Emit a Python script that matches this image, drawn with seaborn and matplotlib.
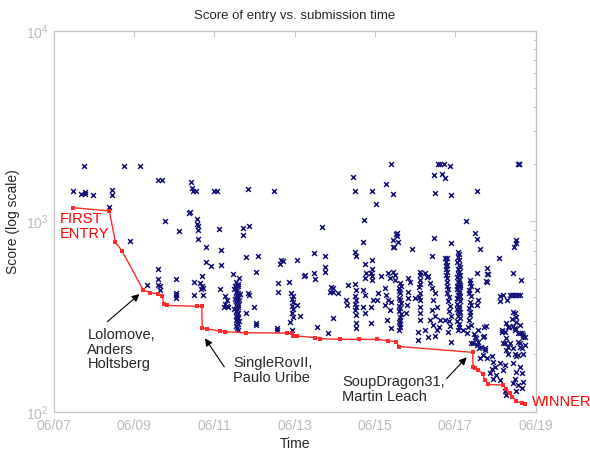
import pandas as pd
import matplotlib
matplotlib.use("Agg")
import matplotlib.pyplot as plt
import matplotlib.dates as mdates
import seaborn as sns

# submissions, (day of June, score)
early_entries = [
    (7.49, 1450), (7.68, 1400), (7.78, 1420), (7.78, 1390), (7.76, 1950), (7.98, 1380),
    (8.46, 1470), (8.46, 1370), (8.38, 1190), (8.75, 1950), (8.91, 790), (9.14, 1950),
    (9.33, 465), (9.59, 500), (9.61, 560), (9.61, 465), (9.61, 1650), (9.66, 455),
    (9.66, 435), (9.69, 1650), (9.77, 1000), (10.06, 500), (10.06, 420), (10.06, 410),
    (10.06, 395), (10.13, 890), (10.38, 1110), (10.40, 1120), (10.42, 1610), (10.45, 1490),
    (10.46, 1440), (10.54, 1440), (10.49, 410), (10.50, 480), (10.56, 1030), (10.56, 970),
    (10.59, 945), (10.60, 900), (10.60, 805), (10.64, 475), (10.69, 455), (10.69, 515),
    (10.71, 445), (10.66, 440), (10.71, 410), (10.79, 730), (10.79, 610), (10.92, 585),
    (11.00, 1450), (11.08, 1450), (11.13, 910), (11.14, 440), (11.16, 705), (11.18, 590),
]

middle_entries = [
    (11.26, 405), (11.31, 385), (11.27, 370), (11.31, 360), (11.25, 355), (11.33, 355),
    (11.47, 530), (11.62, 505),
    (11.55, 480), (11.58, 470), (11.52, 460), (11.60, 455), (11.55, 445), (11.57, 435),
    (11.53, 425), (11.59, 420), (11.56, 410), (11.54, 400), (11.58, 395), (11.61, 385),
    (11.55, 380), (11.57, 370), (11.53, 362), (11.59, 355), (11.56, 348), (11.54, 340),
    (11.60, 332), (11.57, 325), (11.55, 318), (11.58, 310), (11.53, 302), (11.56, 295),
    (11.59, 288), (11.55, 282), (11.57, 276), (11.60, 270), (11.50, 440), (11.63, 415),
    (11.50, 345), (11.62, 300), (11.52, 390), (11.58, 365), (11.56, 315),
    (11.71, 850), (11.72, 925), (11.78, 330), (11.80, 650), (11.83, 420), (11.83, 1480),
    (11.86, 950), (11.87, 410), (12.00, 355), (12.03, 292), (12.03, 285), (12.04, 545),
    (12.10, 660), (12.49, 1450), (12.55, 275), (12.57, 270), (12.58, 425), (12.59, 475),
    (12.64, 600), (12.66, 625), (12.71, 620), (12.87, 480),
    (12.92, 420), (12.95, 405), (12.93, 390), (12.96, 375), (12.94, 360), (12.97, 345),
    (12.93, 330), (12.88, 295), (12.93, 270), (12.95, 315),
    (13.05, 365), (13.06, 630), (13.13, 320), (13.23, 515), (13.26, 520), (13.48, 680),
    (13.48, 535), (13.50, 500), (13.55, 280), (13.67, 935), (13.75, 655), (13.75, 575),
    (13.76, 540), (13.84, 260), (13.88, 425), (13.91, 450), (13.95, 425), (13.95, 310),
    (13.96, 445), (14.07, 420), (14.29, 385), (14.31, 365), (14.33, 465), (14.45, 1710),
    (14.50, 1450), (14.50, 690), (14.53, 655), (14.50, 470), (14.54, 435),
    (14.51, 404), (14.53, 386), (14.50, 369), (14.54, 357), (14.51, 342), (14.53, 321),
    (14.52, 292), (14.52, 275),
    (14.70, 357), (14.71, 436), (14.71, 780), (14.72, 1020), (14.74, 410), (14.74, 329),
    (14.75, 600), (14.77, 535), (14.75, 505), (14.92, 1450), (14.92, 625), (14.92, 565),
    (14.90, 535), (14.93, 515), (14.92, 490), (14.91, 357), (14.90, 291), (14.96, 386),
]

late_entries = [
    (15.03, 1230), (15.04, 386), (15.08, 420), (15.16, 515), (15.24, 446), (15.26, 364),
    (15.27, 1580), (15.28, 410), (15.29, 303), (15.32, 386), (15.33, 535), (15.37, 505),
    (15.37, 342), (15.39, 378), (15.40, 2000), (15.41, 274), (15.44, 730), (15.45, 1390),
    (15.45, 545), (15.45, 800), (15.47, 735), (15.50, 525), (15.51, 490), (15.53, 860),
    (15.55, 840), (15.58, 780), (15.54, 870),
    (15.62, 473), (15.60, 446), (15.63, 420), (15.61, 396), (15.64, 372), (15.62, 350),
    (15.60, 337), (15.63, 316), (15.61, 297), (15.62, 280), (15.60, 268), (15.64, 460),
    (15.61, 430), (15.63, 385), (15.60, 360), (15.64, 325), (15.62, 305), (15.63, 288),
    (15.76, 329), (15.79, 363), (15.81, 395), (15.81, 503), (15.83, 428), (15.87, 482),
    (15.91, 720), (16.00, 395),
    (16.12, 545), (16.11, 523), (16.13, 490), (16.10, 453), (16.12, 420), (16.11, 386),
    (16.13, 357), (16.12, 329), (16.11, 303), (16.13, 470), (16.10, 400),
    (16.07, 263), (16.07, 238), (16.24, 268), (16.32, 248), (16.24, 535), (16.30, 510),
    (16.32, 515), (16.37, 473), (16.41, 446), (16.49, 420), (16.45, 386), (16.54, 357),
    (16.41, 342), (16.49, 320), (16.37, 303), (16.45, 285), (16.54, 268), (16.49, 250),
    (16.43, 660), (16.47, 815), (16.47, 1750), (16.50, 1410), (16.57, 2000), (16.62, 303),
    (16.59, 280), (16.63, 2000), (16.68, 1770), (16.71, 2000), (16.74, 303), (16.75, 1690),
    (16.86, 1960), (16.89, 1370), (16.89, 770), (16.90, 233),
    (16.78, 640), (16.77, 615), (16.79, 590), (16.76, 565), (16.78, 545), (16.77, 522),
    (16.79, 503), (16.78, 482), (16.80, 460), (16.82, 440), (16.79, 420), (16.84, 400),
    (16.81, 380), (16.86, 360), (16.83, 340), (16.88, 320), (16.85, 300), (16.87, 282),
    (16.82, 262), (16.76, 580), (16.74, 640),
]

final_entries = [
    (17.06, 690), (17.09, 670), (17.07, 650), (17.10, 630), (17.05, 610), (17.08, 590),
    (17.11, 575), (17.06, 560), (17.09, 545), (17.07, 530), (17.12, 520), (17.05, 510),
    (17.08, 500), (17.10, 490), (17.06, 480), (17.09, 470), (17.07, 460), (17.11, 450),
    (17.05, 440), (17.08, 430), (17.10, 420), (17.06, 410), (17.09, 400), (17.07, 390),
    (17.11, 380), (17.05, 370), (17.08, 360), (17.10, 350), (17.06, 340), (17.09, 330),
    (17.07, 320), (17.11, 310), (17.05, 300), (17.08, 290), (17.10, 280), (17.07, 268),
    (17.04, 455), (17.12, 465), (17.04, 395), (17.12, 405), (17.04, 345), (17.12, 335),
    (17.27, 1010), (17.32, 280), (17.28, 258), (17.19, 268),
    (17.36, 490), (17.37, 473), (17.35, 436), (17.38, 404), (17.36, 378), (17.35, 350),
    (17.37, 322), (17.34, 303), (17.38, 285), (17.40, 460), (17.33, 420), (17.39, 365),
    (17.36, 335),
    (17.40, 229), (17.46, 256), (17.48, 870), (17.48, 248), (17.51, 243), (17.44, 229),
    (17.54, 224), (17.53, 810), (17.53, 535), (17.53, 364), (17.54, 1450), (17.55, 436),
    (17.56, 268), (17.56, 233), (17.57, 386), (17.60, 215), (17.62, 715), (17.61, 191),
    (17.65, 219), (17.69, 248), (17.69, 198), (17.72, 250), (17.72, 278), (17.73, 211),
    (17.73, 215), (17.76, 281), (17.76, 485), (17.78, 570), (17.78, 530), (17.78, 482),
    (17.78, 191), (17.82, 530), (17.86, 159), (17.90, 195), (17.90, 167), (17.94, 183),
    (17.94, 149), (17.98, 172), (18.02, 156), (18.09, 640), (18.11, 405), (18.11, 380),
    (18.11, 180), (18.11, 146), (18.16, 268), (18.17, 263), (18.19, 410), (18.19, 229),
    (18.19, 166), (18.23, 263), (18.23, 229), (18.23, 176), (18.23, 128), (18.25, 293),
    (18.27, 243), (18.27, 211), (18.27, 122), (18.28, 385), (18.30, 220), (18.31, 278),
    (18.31, 202), (18.33, 278), (18.36, 410), (18.36, 229), (18.40, 410), (18.40, 306),
    (18.44, 410), (18.44, 535), (18.44, 335), (18.44, 215), (18.44, 180), (18.44, 141),
    (18.44, 282), (18.46, 730), (18.48, 410), (18.48, 329), (18.48, 274), (18.48, 269),
    (18.48, 202), (18.48, 149), (18.50, 770), (18.52, 800), (18.52, 410), (18.52, 315),
    (18.52, 297), (18.52, 195), (18.52, 162), (18.52, 128), (18.56, 410), (18.56, 260),
    (18.56, 233), (18.56, 198), (18.56, 138), (18.57, 2000), (18.58, 2000), (18.59, 1990),
    (18.60, 410), (18.60, 285), (18.60, 258), (18.60, 229), (18.60, 220), (18.60, 172),
    (18.63, 490), (18.65, 258), (18.65, 215), (18.65, 159), (18.65, 133), (18.69, 253),
    (18.69, 248), (18.69, 202), (18.69, 144), (18.73, 248), (18.73, 224),
]

# running best entry (red line)
best_day = [7.485, 8.39, 8.54, 8.70, 9.23, 9.40, 9.61, 9.71, 9.74, 9.82, 10.56, 10.69,
            10.70, 10.81, 11.14, 11.27, 11.78, 12.80, 12.93, 12.97, 13.05, 13.50, 13.63,
            14.13, 14.60, 15.04, 15.33, 15.53, 15.60, 17.43, 17.44, 17.50, 17.57, 17.68,
            17.73, 17.82, 18.19, 18.27, 18.36, 18.42, 18.52, 18.65, 18.73]
best_score = [1180, 1134, 777, 702, 436, 422, 415, 404, 367, 362, 358, 358,
              276, 273, 265, 263, 260, 259, 258, 250, 250, 245, 242,
              240, 240, 240, 236, 233, 220, 205, 172, 170, 166, 158,
              147, 139, 138, 131, 125, 120, 114, 111, 110]

start = pd.Timestamp("2008-06-07")


def to_time(days):
    return start + pd.to_timedelta(pd.Series(days) - 7, unit="D")


subs = pd.DataFrame(early_entries + middle_entries + late_entries + final_entries,
                    columns=["day", "score"])
subs["time"] = to_time(subs["day"])
best = pd.DataFrame({"time": to_time(best_day), "score": best_score})

sns.set_style("white")
plt.rcParams["font.family"] = ["Liberation Sans", "DejaVu Sans"]
grey = "#c4c4c4"

fig = plt.figure(figsize=(5.9, 4.5), dpi=100)
ax = fig.add_axes([0.0907, 0.0851, 0.8173, 0.846])

sns.scatterplot(data=subs, x="time", y="score", marker="x", s=12, linewidth=1.1,
                color="#14147a", ax=ax, legend=False, zorder=2)
sns.lineplot(data=best, x="time", y="score", sort=False, estimator=None,
             color="#ff2a2a", lw=1, marker="s", markersize=3.4, markeredgewidth=0,
             ax=ax, zorder=3)

ax.set_yscale("log")
ax.set_ylim(100, 10000)
ax.set_xlim(start, start + pd.Timedelta(days=12))
ax.xaxis.set_major_locator(mdates.DayLocator(bymonthday=[7, 9, 11, 13, 15, 17, 19]))
ax.xaxis.set_major_formatter(mdates.DateFormatter("%m/%d"))

for s in ax.spines.values():
    s.set_color(grey)
    s.set_linewidth(0.9)
ax.tick_params(which="both", direction="in", top=True, right=True, color=grey,
               labelcolor="#bcbcbc", labelsize=10)
ax.tick_params(which="major", length=4)
ax.tick_params(which="minor", length=2.5)
ax.tick_params(axis="x", which="minor", top=False, bottom=False)
ax.tick_params(axis="x", pad=5)

ax.set_title("Score of entry vs. submission time", fontsize=9.5, pad=9)
ax.set_xlabel("Time", fontsize=10, labelpad=3)
ax.set_ylabel("Score (log scale)", fontsize=10, labelpad=4)

ax.text(0.012, 0.525, "FIRST\nENTRY", transform=ax.transAxes, color="red",
        fontsize=10.5, va="top", ha="left", linespacing=1.1)
ax.text(0.993, 0.026, "WINNER", transform=ax.transAxes, color="red",
        fontsize=10.5, va="center", ha="left", clip_on=False)

notes = [
    ("Lolomove,\nAnders\nHoltsberg", (0.070, 0.219), (9.14, 415), (8.34, 297)),
    ("SingleRovII,\nPaulo Uribe", (0.373, 0.146), (10.77, 243), (11.25, 172)),
    ("SoupDragon31,\nMartin Leach", (0.599, 0.096), (17.28, 193), (16.78, 149)),
]
for label, pos, head, tail in notes:
    ax.text(pos[0], pos[1], label, transform=ax.transAxes, fontsize=10.5,
            va="top", ha="left", linespacing=1.05)
    ax.annotate("", xy=(to_time([head[0]])[0], head[1]),
                xytext=(to_time([tail[0]])[0], tail[1]),
                arrowprops=dict(arrowstyle="-|>", color="black", lw=0.8,
                                mutation_scale=11, shrinkA=0, shrinkB=0))

fig.savefig("out.png", dpi=100)
